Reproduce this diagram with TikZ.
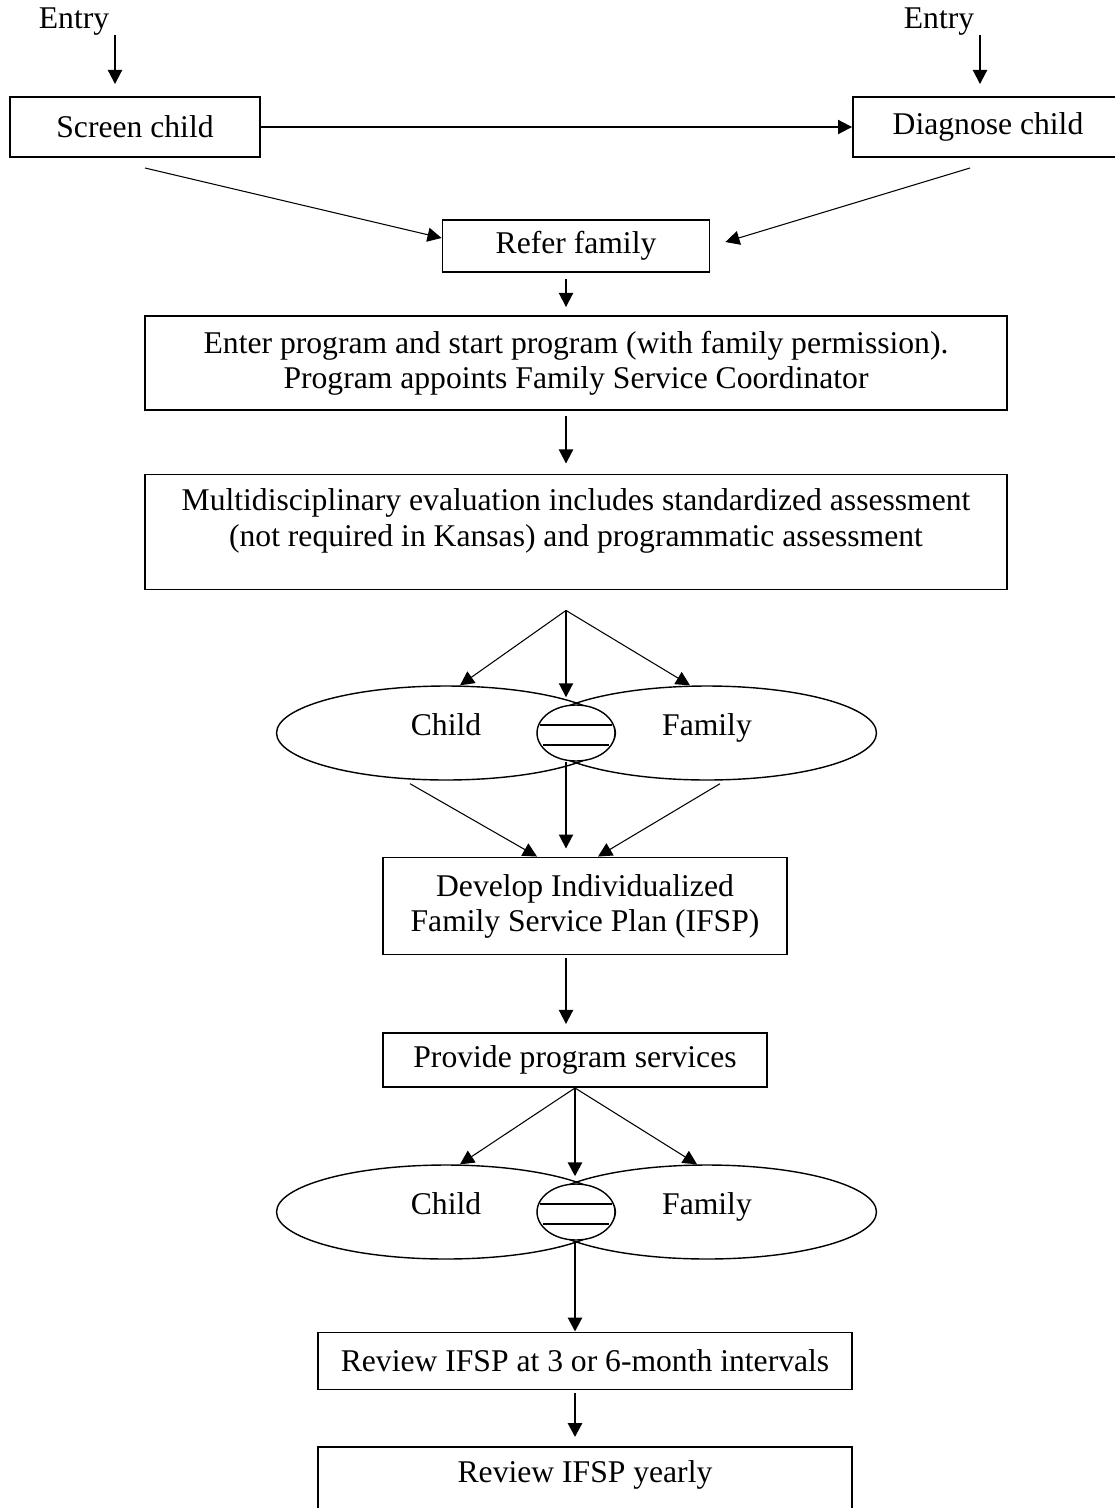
\documentclass[tikz,border=0pt]{standalone}
\usepackage{fontspec}
\setmainfont{Liberation Serif}
\usetikzlibrary{shapes.geometric, arrows.meta, positioning, calc}

\begin{document}
\begin{tikzpicture}[x=0.02cm, y=-0.02cm, >={Triangle[length=8pt,width=8pt]}, font=\fontsize{18}{20}\selectfont]
  \tikzstyle{box} = [rectangle, draw, line width=1.1pt, text centered, inner sep=0pt]
  \tikzstyle{oval} = [ellipse, draw, line width=0.8pt, minimum width=6.78cm, minimum height=1.88cm, inner sep=0pt, text depth=0.35cm]
  \tikzstyle{lens} = [ellipse, draw, fill=white, line width=0.8pt, minimum width=1.56cm, minimum height=1.12cm, inner sep=0pt]
  \tikzstyle{flow} = [->, line width=1.1pt]
  \tikzstyle{slant} = [->, line width=0.6pt]
  \tikzstyle{heavy} = [->, line width=1.6pt]

  \useasboundingbox (0,0) rectangle (1115,1508);

  % entry points
  \node (entryL) at (74,22) {Entry};
  \node (entryR) at (939,22) {Entry};
  \coordinate (inL) at (115,35);
  \coordinate (inR) at (980,35);

  \node [box, minimum width=5cm, minimum height=1.2cm] (screen) at (135,127) {Screen child};
  \node [box, minimum width=5.4cm, minimum height=1.2cm] (diagnose) at (988,127) {Diagnose child};
  \node [box, minimum width=5.34cm, minimum height=1.04cm] (refer) at (576,246) {Refer family};
  \node [box, minimum width=17.26cm, minimum height=1.88cm, align=center] (enter) at (576,363) {Enter program and start program (with family permission).\\Program appoints Family Service Coordinator};
  \node [box, minimum width=17.26cm, minimum height=2.3cm] (multi) at (576,532) {};
  \node [align=center] (multitext) at (576,521) {Multidisciplinary evaluation includes standardized assessment\\(not required in Kansas) and programmatic assessment};

  % first child / family pair
  \node [oval] (child1) at (446,733) {Child};
  \node [oval] (family1) at (707,733) {Family};
  \node [lens] (lens1) at (576,733) {};
  \draw [line width=0.8pt] ($(lens1)+(-36,-8)$) -- ($(lens1)+(36,-8)$);
  \draw [line width=0.8pt] ($(lens1)+(-33,12)$) -- ($(lens1)+(33,12)$);

  \node [box, minimum width=8.08cm, minimum height=1.94cm, align=center] (ifsp) at (585,906) {Develop Individualized\\Family Service Plan (IFSP)};
  \node [box, minimum width=7.68cm, minimum height=1.08cm] (provide) at (575,1060) {Provide program services};

  % second child / family pair
  \node [oval] (child2) at (446,1212) {Child};
  \node [oval] (family2) at (707,1212) {Family};
  \node [lens] (lens2) at (576,1212) {};
  \draw [line width=0.8pt] ($(lens2)+(-36,-8)$) -- ($(lens2)+(36,-8)$);
  \draw [line width=0.8pt] ($(lens2)+(-33,12)$) -- ($(lens2)+(33,12)$);

  \node [box, minimum width=10.7cm, minimum height=1.14cm] (review) at (585,1361) {Review IFSP at 3 or 6-month intervals};
  \node [box, minimum width=10.7cm, minimum height=1.6cm] (yearly) at (585,1487) {};
  \node (yearlytext) at ([yshift=-0.58cm]yearly.north) {Review IFSP yearly};

  % connectors
  \coordinate (scfoot) at (145,168);
  \coordinate (dgfoot) at (970,168);
  \coordinate (fork1) at ([xshift=-0.2cm,yshift=-0.4cm]multi.south);

  \draw [flow, shorten >=0.24cm] (inL) -- (inL |- screen.north);
  \draw [flow, shorten >=0.24cm] (inR) -- (inR |- diagnose.north);
  \draw [flow] (screen) -- (diagnose);
  \draw [slant] (scfoot) -- ([yshift=0.16cm]refer.west);
  \draw [slant] (dgfoot) -- ([xshift=0.3cm,yshift=0.08cm]refer.east);
  \draw [flow, shorten <=0.12cm, shorten >=0.16cm] ([xshift=-0.2cm]refer.south) -- ([xshift=-0.2cm]refer.south |- enter.north);
  \draw [flow, shorten <=0.1cm, shorten >=0.2cm] ([xshift=-0.2cm]enter.south) -- ([xshift=-0.2cm]enter.south |- multi.north);

  \draw [slant] (fork1) -- ([xshift=0.28cm]child1.north);
  \draw [flow, shorten >=0.14cm] (fork1) -- (fork1 |- lens1.north);
  \draw [slant] (fork1) -- ([xshift=-0.34cm]family1.north);
  \draw [slant] ($(child1.south)+(-36,3)$) -- ([xshift=-0.96cm]ifsp.north);
  \draw [flow, shorten >=0.16cm] (fork1 |- lens1.south) -- (fork1 |- ifsp.north);
  \draw [slant] ($(family1.south)+(13,3)$) -- ([xshift=0.26cm]ifsp.north);
  \draw [flow, shorten <=0.06cm, shorten >=0.16cm] (fork1 |- ifsp.south) -- (fork1 |- provide.north);

  \draw [slant] (provide.south) -- ([xshift=0.28cm]child2.north);
  \draw [heavy, shorten >=0.14cm] (provide.south) -- (provide.south |- lens2.north);
  \draw [slant] (provide.south) -- ([xshift=-0.2cm]family2.north);
  \draw [heavy] (provide.south |- lens2.south) -- (provide.south |- review.north);
  \draw [heavy, shorten <=0.06cm, shorten >=0.18cm] (provide.south |- review.south) -- (provide.south |- yearly.north);
\end{tikzpicture}
\end{document}
